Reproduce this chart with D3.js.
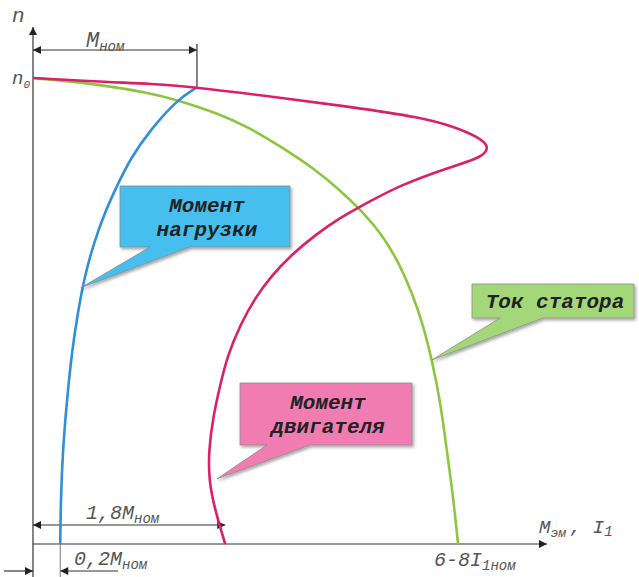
<!DOCTYPE html>
<html lang="ru">
<head>
<meta charset="UTF-8">
<title>Механические характеристики</title>
<script src="https://cdnjs.cloudflare.com/ajax/libs/d3/7.8.2/d3.min.js"></script>
<style>
  body { margin: 0; background: #fff; }
  svg { display: block; }
  .dim { stroke: #333; stroke-width: 1.2px; fill: none; }
  .lbl { font-family: "Liberation Mono", monospace; font-style: italic; fill: #555; }
  .call { font-family: "Liberation Mono", monospace; font-weight: bold; font-style: italic; fill: #222; font-size: 21px; }
</style>
</head>
<body>
<svg width="639" height="577"></svg>
<script>
// x: момент / ток в условных единицах (0..100), y: частота вращения n/n0
const motorTorque = [
  [0, 1.0], [15, 0.991], [22.8, 0.988], [31.9, 0.98], [48.6, 0.957], [61.7, 0.938],
  [75.3, 0.916], [82.1, 0.895], [86.6, 0.873], [88.8, 0.854], [87.6, 0.83],
  [81.1, 0.809], [71.4, 0.77], [65, 0.732], [59.7, 0.7], [54.9, 0.663], [50.4, 0.622],
  [46.5, 0.577], [43.2, 0.528], [40.3, 0.47], [37.9, 0.406], [36.4, 0.341],
  [35, 0.27], [34.2, 0.202], [34.2, 0.137], [35.4, 0.073], [37.4, 0]
];
const statorCurrent = [
  [0, 1.0], [11.1, 0.989], [22.8, 0.968], [28, 0.953], [35.8, 0.925], [42.2, 0.893],
  [48.6, 0.85], [54.5, 0.807], [59.7, 0.76], [64.2, 0.712], [68.1, 0.661],
  [71.4, 0.599], [73.9, 0.534], [75.9, 0.47], [77.6, 0.395], [79.2, 0.309],
  [80.5, 0.202], [81.7, 0.105], [82.7, 0]
];
const loadTorque = [
  [31.9, 0.98], [28, 0.953], [22.8, 0.888], [19.1, 0.83], [16.3, 0.768],
  [14, 0.712], [11.9, 0.648], [10.1, 0.577], [8.8, 0.502], [7.6, 0.416],
  [6.6, 0.309], [5.8, 0.202], [5.4, 0.094], [5.3, 0]
];
const mNom = 31.9, m18 = 37.4, m02 = 5.3;

const svg = d3.select("svg");
const x = d3.scaleLinear().domain([0, 100]).range([33, 547]);
const y = d3.scaleLinear().domain([0, 1]).range([544, 78]);

const defs = svg.append("defs");
defs.append("marker").attr("id", "arr").attr("viewBox", "0 0 10 10")
  .attr("refX", 10).attr("refY", 5).attr("markerWidth", 11).attr("markerHeight", 8)
  .attr("markerUnits", "userSpaceOnUse").attr("orient", "auto-start-reverse")
  .append("path").attr("d", "M0,0L10,5L0,10Z").attr("fill", "#222");
const sh = defs.append("filter").attr("id", "sh").attr("x", "-10%").attr("y", "-10%")
  .attr("width", "130%").attr("height", "140%");
sh.append("feDropShadow").attr("dx", 1.5).attr("dy", 2).attr("stdDeviation", 1.5)
  .attr("flood-color", "#000").attr("flood-opacity", 0.35);

// оси
svg.append("line").attr("class", "dim").attr("x1", x(0)).attr("x2", x(0))
  .attr("y1", 577).attr("y2", 27).attr("marker-end", "url(#arr)");
svg.append("line").attr("class", "dim").attr("x1", x(0)).attr("x2", x(100))
  .attr("y1", y(0)).attr("y2", y(0)).attr("marker-end", "url(#arr)");

// размерные линии
function dimLine(x1, x2, yy, both) {
  svg.append("line").attr("class", "dim").attr("x1", x1).attr("x2", x2)
    .attr("y1", yy).attr("y2", yy)
    .attr("marker-end", "url(#arr)")
    .attr("marker-start", both ? "url(#arr)" : null);
}
dimLine(x(0), x(mNom), 50, true);
svg.append("line").attr("class", "dim").attr("x1", x(mNom)).attr("x2", x(mNom))
  .attr("y1", 44).attr("y2", y(0.98));
dimLine(x(0), x(m18), 525, true);
dimLine(4, x(0), 571, false);
dimLine(118, x(m02), 571, false);
svg.append("line").attr("stroke", "#777").attr("stroke-width", 1)
  .attr("x1", x(m02)).attr("x2", x(m02)).attr("y1", y(0)).attr("y2", 577);

// кривые
const line = d3.line().x(d => x(d[0])).y(d => y(d[1])).curve(d3.curveBasis);
svg.append("path").datum(statorCurrent).attr("d", line)
  .attr("fill", "none").attr("stroke", "#8cc63f").attr("stroke-width", 2.6);
svg.append("path").datum(loadTorque).attr("d", line)
  .attr("fill", "none").attr("stroke", "#2f8fd8").attr("stroke-width", 2.6);
svg.append("path").datum(motorTorque).attr("d", line)
  .attr("fill", "none").attr("stroke", "#dc2067").attr("stroke-width", 2.6);

// подписи
function label(px, py, main, sub, size, subSize) {
  const t = svg.append("text").attr("class", "lbl").attr("x", px).attr("y", py)
    .attr("font-size", size);
  t.append("tspan").text(main);
  if (sub) t.append("tspan").attr("dy", 4).attr("font-size", subSize).text(sub);
}
label(12, 22, "n", null, 21);
label(12, 84, "n", "0", 19, 11);
label(86, 47, "M", "ном", 22, 14);
label(86, 519, "1,8M", "ном", 20, 14);
label(74, 565, "0,2M", "ном", 20, 14);
label(539, 533, "M", "эм", 19, 13);
svg.append("text").attr("class", "lbl").attr("x", 570).attr("y", 533)
  .attr("font-size", 19).text(", I")
  .append("tspan").attr("dy", 3).attr("font-size", 14).text("1");
label(434, 566, "6-8I", "1ном", 20, 14);

// выноски
const callouts = [
  { lines: ["Момент", "нагрузки"], fill: "#46bfee", box: [120, 186, 170, 61],
    base: [150, 190], tip: [9.3, 0.55] },
  { lines: ["Момент", "двигателя"], fill: "#f07cb2", box: [240, 383, 172, 62],
    base: [267, 310], tip: [35.8, 0.14] },
  { lines: ["Ток статора"], fill: "#a3d77a", box: [472, 284, 162, 34],
    base: [500, 543], tip: statorCurrent[14] }
];
callouts.forEach(c => {
  const [bx, by, bw, bh] = c.box;
  const g = svg.append("g");
  const tx = x(c.tip[0]), ty = y(c.tip[1]);
  g.append("path")
    .attr("d", `M${bx},${by}H${bx + bw}V${by + bh}H${c.base[1]}L${tx},${ty}L${c.base[0]},${by + bh}H${bx}Z`)
    .attr("fill", c.fill).attr("stroke", "#8a8a8a").attr("stroke-width", 0.8)
    .attr("filter", "url(#sh)");
  const cy = by + bh / 2 - (c.lines.length - 1) * 12;
  c.lines.forEach((s, i) => {
    g.append("text").attr("class", "call").attr("x", bx + bw / 2 + 2)
      .attr("y", cy + i * 24 + 7).attr("text-anchor", "middle").text(s);
  });
});
</script>
</body>
</html>
